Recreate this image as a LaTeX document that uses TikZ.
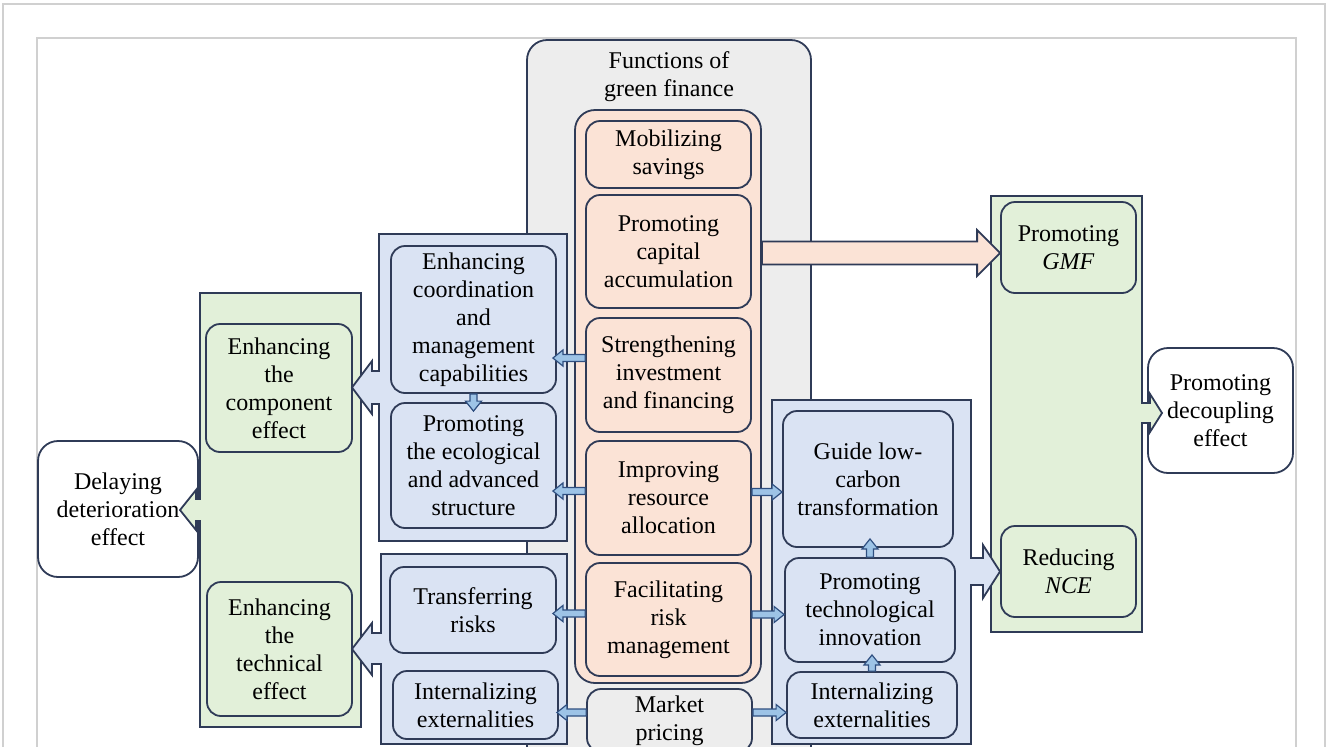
\documentclass[tikz,border=0pt]{standalone}
\usepackage{fontspec}
\setmainfont{Liberation Serif}
\usetikzlibrary{calc}

\definecolor{navy}{HTML}{2F3B57}
\definecolor{greyfill}{HTML}{EDEDED}
\definecolor{peach}{HTML}{FBE3D6}
\definecolor{bluefill}{HTML}{DAE3F3}
\definecolor{greenfill}{HTML}{E2F0D9}
\definecolor{arrfill}{HTML}{9DC3E6}
\definecolor{arrline}{HTML}{2F4F80}
\definecolor{framegrey}{HTML}{D0D0D0}

\tikzset{
  area/.style args={#1,#2,#3,#4}{at={({(#1+#3)/2},{(#2+#4)/2})},
    minimum width={(#3-#1)*0.5pt}, minimum height={(#4-#2)*0.5pt}},
  box/.style={draw=navy, line width=0.9pt, rounded corners=7pt, inner sep=0pt, align=center},
  orbox/.style={box, fill=peach},
  bluebox/.style={box, fill=bluefill},
  greenbox/.style={box, fill=greenfill},
  whitebox/.style={box, fill=white, rounded corners=10pt},
  panel/.style={draw=navy, line width=0.9pt, line join=miter},
  gpanel/.style={panel, fill=greenfill},
  bpanel/.style={panel, fill=bluefill},
  fatarrow/.style n args={3}{to path={
    ($(\tikztostart)!#1!90:(\tikztotarget)$)
    -- ($($(\tikztotarget)!#3!(\tikztostart)$)!#1!90:(\tikztotarget)$)
    -- ($($(\tikztotarget)!#3!(\tikztostart)$)!#2!90:(\tikztotarget)$)
    -- (\tikztotarget)
    -- ($($(\tikztotarget)!#3!(\tikztostart)$)!#2!-90:(\tikztotarget)$)
    -- ($($(\tikztotarget)!#3!(\tikztostart)$)!#1!-90:(\tikztotarget)$)
    -- ($(\tikztostart)!#1!-90:(\tikztotarget)$)
    -- cycle}},
  sarrow/.style={draw=arrline, fill=arrfill, line width=0.6pt, line join=miter, fatarrow={1.75pt}{4pt}{5pt}},
  bigarrow/.style={draw=navy, fill=peach, line width=0.9pt, line join=miter, fatarrow={5.75pt}{11.5pt}{11.5pt}},
}

\begin{document}
\begin{tikzpicture}[x=0.5pt,y=-0.5pt,font=\fontsize{12}{14}\selectfont]
\useasboundingbox (0,0) rectangle (1328,746);
\clip (0,0) rectangle (1328,746);

% page frames
\draw[framegrey, line width=1pt] (3,4) rectangle (1325,800);
\draw[framegrey, line width=1pt] (37,38) rectangle (1296,800);

% functions of green finance
\draw[draw=navy, fill=greyfill, line width=0.9pt, rounded corners=10pt] (527,800) rectangle (811,40);
\node[align=center] (title) at (669,77) {Functions of\\green finance};
\node[orbox, rounded corners=10pt, area={575,110,761,683}] (fin) {};
\node[orbox, area={586,121,751,188}] (mob) {Mobilizing\\savings};
\node[orbox, area={586,195,751,308}] (cap) {Promoting\\capital\\accumulation};
\node[orbox, area={586,318,751,432}] (inv) {Strengthening\\investment\\and financing};
\node[orbox, area={586,441,751,555}] (res) {Improving\\resource\\allocation};
\node[orbox, area={586,563,751,676}] (risk) {Facilitating\\risk\\management};
\node[box, fill=greyfill, area={587,689,752,752}] (mkt) {Market\\pricing};

% final effects
\node[whitebox, area={38,441,198,577}] (delay) {Delaying\\deterioration\\effect};
\node[whitebox, area={1148,348,1293,473}] (decoup) {Promoting\\decoupling\\effect};

% green panels
\draw[gpanel] (361,293) -- (200,293) -- (200,499) -- (196,499) -- (196,490) -- (180,510)
  -- (196,530) -- (196,521) -- (200,521) -- (200,727) -- (361,727) -- cycle;
\draw[gpanel] (991,196) -- (1142,196) -- (1142,403) -- (1150,403) -- (1150,394) -- (1162,413)
  -- (1150,432) -- (1150,423) -- (1142,423) -- (1142,632) -- (991,632) -- cycle;
\node[greenbox, area={206,324,352,452}] (comp) {Enhancing\\the\\component\\effect};
\node[greenbox, area={207,582,352,716}] (techn) {Enhancing\\the\\technical\\effect};
\node[greenbox, area={1001,202,1136,293}] (gmf) {Promoting\\\textit{GMF}};
\node[greenbox, area={1001,526,1136,617}] (nce) {Reducing\\\textit{NCE}};

% blue panels
\draw[bpanel] (567,234) -- (379,234) -- (379,371) -- (372,371) -- (372,361) -- (352,387.5)
  -- (372,414) -- (372,404) -- (379,404) -- (379,541) -- (567,541) -- cycle;
\draw[bpanel] (567,554) -- (381,554) -- (381,633) -- (372,633) -- (372,623) -- (352,649)
  -- (372,675) -- (372,664) -- (381,664) -- (381,744) -- (567,744) -- cycle;
\draw[bpanel] (772,400) -- (971,400) -- (971,558) -- (983,558) -- (983,545) -- (1000,571.5)
  -- (983,598) -- (983,585) -- (971,585) -- (971,744) -- (772,744) -- cycle;
\node[bluebox, area={391,246,556,393}] (coord) {Enhancing\\coordination\\and\\management\\capabilities};
\node[bluebox, area={391,403,556,528}] (eco) {Promoting\\the ecological\\and advanced\\structure};
\node[bluebox, area={390,567,556,653}] (trans) {Transferring\\risks};
\node[bluebox, area={393,671,558,739}] (extL) {Internalizing\\externalities};
\node[bluebox, area={783,411,953,547}] (guide) {Guide low-\\carbon\\transformation};
\node[bluebox, area={785,558,955,662}] (tech) {Promoting\\technological\\innovation};
\node[bluebox, area={787,672,957,738}] (extR) {Internalizing\\externalities};

% small arrows
\coordinate (s1) at ([yshift=8.5pt]inv.west);
\coordinate (t1) at ($(s1 -| coord.east)+(-2pt,0)$);
\coordinate (s2) at ([yshift=3.5pt]res.west);
\coordinate (t2) at ($(s2 -| eco.east)+(-2pt,0)$);
\coordinate (s3) at ([yshift=3pt]res.east);
\coordinate (t3) at (s3 -| guide.west);
\coordinate (s4) at ([yshift=3pt]risk.west);
\coordinate (t4) at ($(s4 -| trans.east)+(-2pt,0)$);
\coordinate (s5) at ([yshift=2.5pt]risk.east);
\coordinate (t5) at (s5 -| tech.west);
\coordinate (s6) at ([yshift=4pt]mkt.west);
\coordinate (t6) at ($(s6 -| extL.east)+(-1pt,0)$);
\coordinate (s7) at ([yshift=4pt]mkt.east);
\coordinate (t7) at (s7 -| extR.west);
\coordinate (t8) at ($(eco.north)+(0,-4.5pt)$);
\coordinate (t9) at ($(extR.north |- tech.south)+(0,4pt)$);
\coordinate (t10) at ($(tech.north |- guide.south)+(0,4.5pt)$);

\draw[sarrow] (s1) to (t1);
\draw[sarrow] (s2) to (t2);
\draw[sarrow] (s3) to (t3);
\draw[sarrow] (s4) to (t4);
\draw[sarrow] (s5) to (t5);
\draw[sarrow] (s6) to (t6);
\draw[sarrow] (s7) to (t7);
\draw[sarrow] (coord.south) to (t8);
\draw[sarrow] (extR.north) to (t9);
\draw[sarrow] (tech.north) to (t10);

% big arrow to GMF
\coordinate (bt) at ([yshift=-2.75pt]gmf.west);
\coordinate (bs) at (fin.east |- bt);
\draw[bigarrow] (bs) to (bt);

\end{tikzpicture}
\end{document}
